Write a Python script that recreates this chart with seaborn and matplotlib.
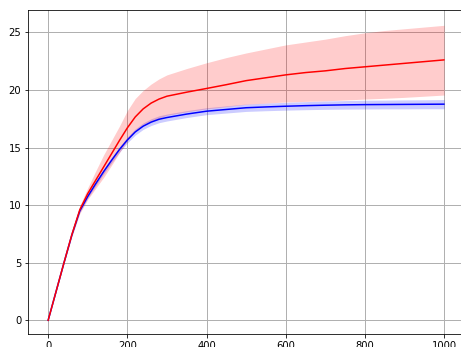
import matplotlib
matplotlib.use("Agg")
import matplotlib.pyplot as plt
import seaborn as sns
import pandas as pd

# Sample steps
steps = [0, 20, 40, 60, 80, 100, 120, 140, 160, 180, 200, 220, 240, 260, 280,
         300, 350, 400, 450, 500, 550, 600, 650, 700, 750, 800, 850, 900, 950,
         1000]

# Red run: mean and spread band
red_mean = [0, 2.5, 5.0, 7.45, 9.6, 11.0, 12.15, 13.3, 14.45, 15.6, 16.7, 17.65,
            18.35, 18.85, 19.2, 19.45, 19.8, 20.12, 20.45, 20.8, 21.05, 21.3,
            21.5, 21.65, 21.85, 22.0, 22.15, 22.3, 22.45, 22.6]
red_low = [0, 2.45, 4.9, 7.28, 9.28, 10.5, 11.45, 12.4, 13.45, 14.55, 15.6,
           16.45, 17.0, 17.3, 17.55, 17.8, 18.1, 18.35, 18.55, 18.75, 18.85,
           18.95, 19.0, 19.05, 19.12, 19.2, 19.27, 19.35, 19.45, 19.55]
red_high = [0, 2.55, 5.1, 7.65, 9.95, 11.5, 12.95, 14.35, 15.6, 16.85, 18.2,
            19.25, 19.95, 20.5, 20.95, 21.3, 21.85, 22.35, 22.8, 23.2, 23.55,
            23.9, 24.15, 24.4, 24.7, 24.95, 25.15, 25.3, 25.45, 25.6]

# Blue run: mean and spread band
blue_mean = [0, 2.5, 5.0, 7.42, 9.5, 10.75, 11.85, 12.9, 13.88, 14.82, 15.65,
             16.35, 16.85, 17.2, 17.45, 17.6, 17.9, 18.15, 18.3, 18.45, 18.52,
             18.58, 18.63, 18.67, 18.7, 18.72, 18.73, 18.74, 18.75, 18.76]
blue_low = [0, 2.45, 4.92, 7.32, 9.37, 10.6, 11.67, 12.7, 13.66, 14.58, 15.4,
            16.08, 16.57, 16.91, 17.15, 17.3, 17.6, 17.85, 17.99, 18.13, 18.19,
            18.24, 18.28, 18.31, 18.33, 18.34, 18.35, 18.35, 18.36, 18.36]
blue_high = [0, 2.55, 5.08, 7.52, 9.63, 10.9, 12.03, 13.1, 14.1, 15.06, 15.9,
             16.62, 17.13, 17.49, 17.75, 17.9, 18.2, 18.45, 18.61, 18.77, 18.85,
             18.92, 18.98, 19.03, 19.07, 19.1, 19.11, 19.13, 19.14, 19.16]

df = pd.DataFrame({
    "step": steps * 2,
    "value": blue_mean + red_mean,
    "run": ["blue"] * len(steps) + ["red"] * len(steps),
})

sns.set_style("ticks")
fig = plt.figure(figsize=(461 / 72, 347 / 72), dpi=72)
ax = fig.add_axes([0.0614, 0.0366, 0.945, 0.9337])

ax.fill_between(steps, blue_low, blue_high, color="blue", alpha=0.2, linewidth=0)
ax.fill_between(steps, red_low, red_high, color="red", alpha=0.2, linewidth=0)
sns.lineplot(data=df, x="step", y="value", hue="run",
             palette={"blue": "#0000ff", "red": "#ff0000"},
             hue_order=["blue", "red"], linewidth=1.5, legend=False, ax=ax)

ax.set_xlim(-50, 1050)
ax.set_ylim(-1.2, 26.9)
ax.set_xticks([0, 200, 400, 600, 800, 1000])
ax.set_yticks([0, 5, 10, 15, 20, 25])
ax.set_xlabel("")
ax.set_ylabel("")
ax.grid(True, color="#b0b0b0", linewidth=1.0)
ax.set_axisbelow(True)
for side in ["left", "bottom", "top", "right"]:
    ax.spines[side].set_visible(True)
    ax.spines[side].set_color("black")
    ax.spines[side].set_linewidth(0.8)
ax.tick_params(direction="out", length=3.5, width=0.8, labelsize=10,
               colors="black")

fig.savefig("out.png", dpi=72)
